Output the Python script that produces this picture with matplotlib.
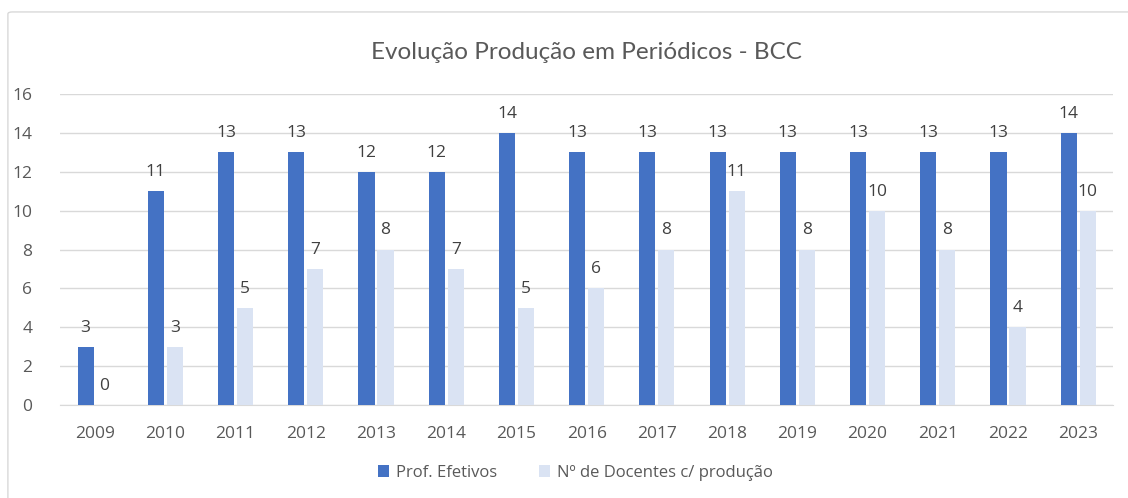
import matplotlib

matplotlib.use("Agg")

import matplotlib.pyplot as plt  # noqa: E402
import numpy as np  # noqa: E402
from matplotlib.patches import FancyBboxPatch  # noqa: E402

years = ["2009", "2010", "2011", "2012", "2013", "2014", "2015", "2016",
         "2017", "2018", "2019", "2020", "2021", "2022", "2023"]
prof_efetivos = [3, 11, 13, 13, 12, 12, 14, 13, 13, 13, 13, 13, 13, 13, 14]
docentes_producao = [0, 3, 5, 7, 8, 7, 5, 6, 8, 11, 8, 10, 8, 4, 10]

plt.rcParams["font.family"] = ["Open Sans", "DejaVu Sans"]
text_color = "#595959"

fig = plt.figure(figsize=(11.28, 4.98), dpi=100)
ax = fig.add_axes([0.0532, 0.1867, 0.9338, 0.6244])

# chart border
fig.patches.append(FancyBboxPatch((0.007, -0.05), 1.05, 1.026,
                                  boxstyle="round,pad=0,rounding_size=0.004",
                                  transform=fig.transFigure, fill=False,
                                  edgecolor="#d9d9d9", linewidth=1))

x = np.arange(len(years))
w = 0.23
gap = 0.02
b1 = ax.bar(x - w / 2 - gap, prof_efetivos, w, color="#4472C4", label="Prof. Efetivos", zorder=3)
b2 = ax.bar(x + w / 2 + gap, docentes_producao, w, color="#DAE3F3",
            label="Nº de Docentes c/ produção", zorder=3)

for bars in (b1, b2):
    ax.bar_label(bars, padding=8, fontsize=12.5, color="#404040")

ax.set_xlim(-0.5, len(years) - 0.5)
ax.set_ylim(0, 16)
ax.set_yticks(range(0, 17, 2))
ax.set_xticks(x, years)
ax.grid(axis="y", color="#d9d9d9", linewidth=1, zorder=0)
for s in ("top", "right", "left"):
    ax.spines[s].set_visible(False)
ax.spines["bottom"].set_color("#d9d9d9")
ax.tick_params(axis="both", length=0, labelsize=12.5, labelcolor=text_color)
ax.tick_params(axis="y", pad=20)
ax.tick_params(axis="x", pad=15)

ax.set_title("Evolução Produção em Periódicos - BCC", fontsize=17.5, color=text_color,
             pad=25, family=["Lato", "DejaVu Sans"])

fig.legend(loc="center", bbox_to_anchor=(0.51, 0.05), ncol=2, frameon=False,
           fontsize=12, labelcolor=text_color, handlelength=0.7, handleheight=0.7,
           columnspacing=2.5, handletextpad=0.4)

fig.savefig("out.png", dpi=100)
